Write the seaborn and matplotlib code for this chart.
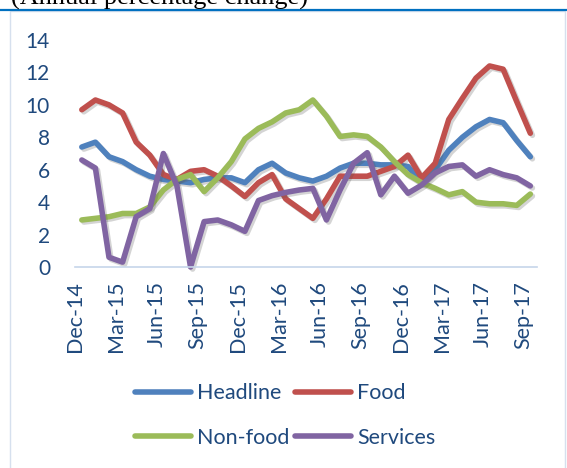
import pandas as pd
import matplotlib.pyplot as plt
import matplotlib.patheffects as pe
import seaborn as sns

# Monthly data, Dec-14 .. Sep-17
months = pd.date_range('2014-12-01', '2017-09-01', freq='MS')
headline = [7.4, 7.7, 6.8, 6.5, 6.0, 5.6, 5.4, 5.3, 5.2, 5.4, 5.5, 5.5, 5.2, 6.0, 6.4, 5.8, 5.5,
            5.3, 5.6, 6.1, 6.4, 6.4, 6.3, 6.3, 6.2, 5.2, 6.0, 7.2, 8.0, 8.65, 9.1, 8.9, 7.8, 6.8]
food = [9.7, 10.3, 10.0, 9.5, 7.7, 6.9, 5.7, 5.4, 5.9, 6.0, 5.6, 5.0, 4.35, 5.2, 5.7, 4.2, 3.6,
        3.0, 4.2, 5.6, 5.6, 5.6, 5.9, 6.2, 6.9, 5.5, 6.4, 9.1, 10.4, 11.65, 12.4, 12.2, 10.2, 8.25]
non_food = [2.9, 3.0, 3.1, 3.3, 3.3, 3.7, 4.75, 5.4, 5.7, 4.65, 5.5, 6.5, 7.9, 8.55, 8.95, 9.5, 9.7,
            10.3, 9.3, 8.05, 8.15, 8.05, 7.4, 6.5, 5.7, 5.2, 4.85, 4.45, 4.65, 4.0, 3.9, 3.9, 3.8, 4.5]
services = [6.6, 6.1, 0.6, 0.3, 3.1, 3.6, 7.0, 5.0, 0.0, 2.8, 2.9, 2.6, 2.2, 4.1, 4.4, 4.6, 4.75,
            4.85, 2.9, 4.75, 6.4, 7.05, 4.45, 5.6, 4.55, 5.05, 5.8, 6.2, 6.3, 5.6, 6.0, 5.7, 5.5, 5.0]

series = ['Headline', 'Food', 'Non-food', 'Services']
colors = {'Headline': '#4F81BD', 'Food': '#C0504D', 'Non-food': '#9BBB59', 'Services': '#8064A2'}

df = pd.DataFrame({'pos': [i + 0.5 for i in range(len(months))],
                   'Headline': headline, 'Food': food, 'Non-food': non_food, 'Services': services})
long = df.melt(id_vars='pos', value_vars=series, var_name='series', value_name='value')

sns.set_style('white')
plt.rcParams['font.family'] = ['Lato', 'DejaVu Sans']
navy = '#1F497D'

fig = plt.figure(figsize=(5.67, 4.68), dpi=100)
ax = fig.add_axes([0.1323, 0.4295, 0.815, 0.485])

sns.lineplot(data=long, x='pos', y='value', hue='series', hue_order=series,
             palette=colors, linewidth=4, ax=ax, legend=False)
for line in ax.lines:
    line.set_clip_on(False)
    line.set_solid_joinstyle('round')
    line.set_path_effects([pe.SimpleLineShadow(offset=(1.5, -1.5), alpha=0.25, shadow_color='#555555'),
                           pe.Normal()])

ax.set_xlim(0, len(months))
ax.set_ylim(0, 14)
ax.set_yticks(range(0, 15, 2))
tick_pos = list(range(0, len(months), 3))
ax.set_xticks(tick_pos)
ax.set_xticklabels([months[i].strftime('%b-%y') for i in tick_pos], rotation=90)
ax.set_xlabel('')
ax.set_ylabel('')

for s in ['top', 'right', 'left']:
    ax.spines[s].set_visible(False)
ax.spines['bottom'].set_color('#C6D5EA')
ax.spines['bottom'].set_linewidth(1.2)
ax.tick_params(axis='x', direction='out', length=5, width=1.2, color='#C6D5EA',
               pad=5, labelsize=15.5, labelcolor=navy)
ax.tick_params(axis='y', length=0, pad=18, labelsize=15, labelcolor=navy)

# legend filled row by row: Headline, Food / Non-food, Services
order = ['Headline', 'Non-food', 'Food', 'Services']
handles = [plt.Line2D([], [], color=colors[s], linewidth=4, solid_capstyle='round') for s in order]
fig.legend(handles, order, loc='center', bbox_to_anchor=(0.503, 0.112), ncol=2, frameon=False,
           fontsize=15.5, labelcolor=navy, handlelength=2.6, handletextpad=0.25,
           columnspacing=0.3, labelspacing=1.15)

# cut-off caption and frame from the source document
fig.text(0.02, 1 - 5 / 468, '(Annual percentage change)', family='Liberation Serif',
         fontsize=19, va='baseline', ha='left', color='black')
fig.add_artist(plt.Line2D([0, 1], [1 - 10 / 468] * 2, color='#0070C0', linewidth=1.6))
fig.add_artist(plt.Rectangle((10 / 567, -0.01), 555 / 567, 1 - 11 / 468 + 0.01, fill=False,
                             edgecolor='#D6E0EE', linewidth=1.0))

plt.savefig('out.png', dpi=100)
